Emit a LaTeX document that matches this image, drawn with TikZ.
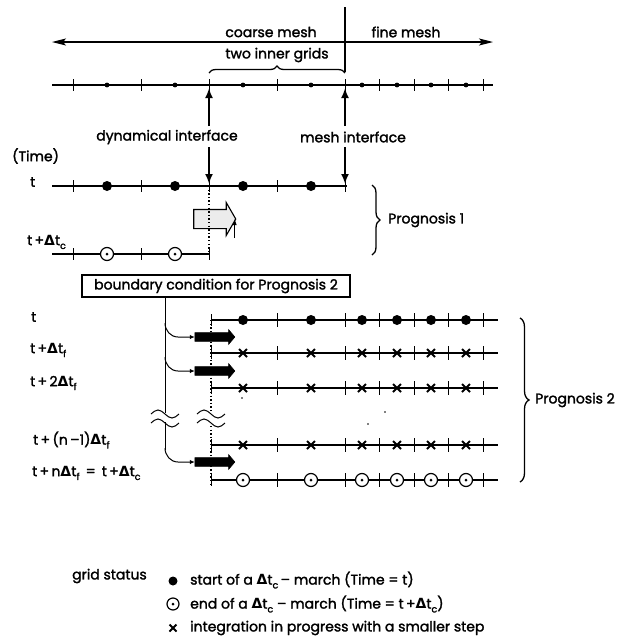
\documentclass[tikz,border=0pt]{standalone}
\usepackage{fontspec}
\setmainfont{Poppins}[FakeBold=1.8]
\newfontfamily\gkfont{DejaVu Sans}
\usetikzlibrary{arrows.meta,decorations.pathreplacing,shapes.arrows,calc}
\newcommand{\Dlt}{{\gkfont\bfseries Δ}}
\newcommand{\lsub}[1]{\raisebox{-0.5ex}{\fontsize{9.5}{10}\selectfont #1}}
\tikzset{
  lab/.style={font=\fontsize{14}{16}\selectfont, inner sep=0pt},
  meshline/.style={line width=1.1pt},
  tickmark/.style={line width=1pt},
  thickarrow/.style={line width=2.6pt,-{Latex[length=10pt,width=8pt]}},
  dotline/.style={line width=1.4pt, dash pattern=on 1.4pt off 2.2pt},
  blackarrow/.style={single arrow, draw, fill=black, line width=0.6pt,
    minimum height=40pt, inner xsep=0pt, inner ysep=4pt, single arrow head extend=3pt,
    single arrow tip angle=100, outer sep=0pt},
  branch/.style={line width=1pt,-{Latex[length=5pt,width=4.5pt]}},
  crossmark/.style={line width=2pt},
  bracedeco/.style={decorate, decoration={brace, amplitude=8pt}, line width=1.3pt}
}
\begin{document}
\begin{tikzpicture}[x=1pt,y=-1pt]
\useasboundingbox (0,0) rectangle (623,641);

% ---------------- top: meshes ----------------
\draw[line width=1.1pt,{Stealth[length=14pt,width=7pt,inset=3pt]}-{Stealth[length=14pt,width=7pt,inset=3pt]}] (52,42) -- (493,42);
\node[lab] (coarse) at (271,32) {coarse mesh};
\node[lab] (fine) at (406,32) {fine mesh};
\node[lab] (inner) at (277,55) {two inner grids};
\draw[line width=2.2pt] (345,7) -- (345,72);
\draw[bracedeco,decoration={brace,amplitude=7pt}] (209,73) -- (345,73);

% mesh row
\draw[meshline] (52,85) -- (493,85);
\foreach \x in {73,141,209,277,345,379.5,414,448.5,483} \draw[tickmark] (\x,79) -- (\x,91);
\foreach \x in {107,175,243,311,362,397,431,466} \fill (\x,85) circle (2.4);

% interfaces
\node[lab] (dyn) at (167,137) {dynamical interface};
\node[lab] (mif) at (353,137) {mesh interface};
\draw[thickarrow] (209,126) -- (209,88);
\draw[thickarrow] (345,126) -- (345,88);
\draw[thickarrow] (209,147) -- (209,184);
\draw[thickarrow] (345,147) -- (345,184);

% ---------------- Prognosis 1 ----------------
\node[lab,anchor=west] (time) at (12,156) {(Time)};
\node[lab,anchor=west] (lt) at (30,182) {t};
\node[lab,anchor=west] (ltc) at (27,242) {t\,+\Dlt t\lsub{c}};

\draw[meshline] (52,186) -- (347,186);
\foreach \x in {73,141,209,277,345} \draw[tickmark] (\x,180) -- (\x,192);
\foreach \x in {107,175,243,311} \fill (\x,186) circle (5);

\draw[meshline] (52,254) -- (209,254);
\foreach \x in {73,141,209} \draw[tickmark] (\x,248) -- (\x,260);
\foreach \x in {107,175} {\draw[line width=1.2pt,fill=white] (\x,254) circle (6.5); \fill (\x,254) circle (1.5);}

\node[single arrow, draw, line width=1.1pt, fill=gray!15, minimum height=42pt,
  inner xsep=0pt, inner ysep=9pt, single arrow head extend=7pt,
  single arrow tip angle=120, outer sep=0pt] (harrow) at (212,219) {};
\draw[dotline] (209,186) -- (209,254);

\node[draw, line width=1.1pt, minimum width=268pt, minimum height=22pt, inner sep=0pt,
  font=\fontsize{14}{16}\selectfont] (box) at (216,286) {boundary condition for Prognosis 2};
\draw[line width=0.8pt,-{Latex[length=6pt,width=4pt]}] ($(harrow.tip)+(-1,19)$) -- ($(harrow.tip)+(-1,0)$ |- box.north);

\draw[bracedeco] (372,185) -- (372,255);
\node[lab,anchor=west] (p1) at (388,220) {Prognosis 1};

% ---------------- Prognosis 2 ----------------
\node[lab,anchor=west] (l0) at (31,317) {t};
\node[lab,anchor=west] (l1) at (30,350) {t\,+\Dlt t\lsub{f}};
\node[lab,anchor=west] (l2) at (30,383) {t\,+\,2\Dlt t\lsub{f}};
\node[lab,anchor=west] (l3) at (33,440) {t\,+\,(n\,–1)\Dlt t\lsub{f}};
\node[lab,anchor=west] (l4) at (32,473) {t\,+\,n\Dlt t\lsub{f} \,=\, t\,+\Dlt t\lsub{c}};

% fine rows
\foreach \y/\k in {320/0,353/1,388/1,445/1,480/2} {
  \draw[meshline] (211,\y) -- (498,\y);
  \draw[tickmark] (211,\y-6) -- (211,\y+6);
  \foreach \x in {277,345,379.5,414,448.5,483} \draw[tickmark] (\x,\y-7) -- (\x,\y+7);
  \foreach \x in {243,311,362,397,431,466} {
    \ifnum\k=0 \fill (\x,\y) circle (5); \fi
    \ifnum\k=1 \draw[crossmark] (\x-4,\y-4) -- (\x+4,\y+4) (\x-4,\y+4) -- (\x+4,\y-4); \fi
    \ifnum\k=2 \draw[line width=1.2pt,fill=white] (\x,\y) circle (6.5); \fill (\x,\y) circle (1.5); \fi
  }
}

% dotted interface line, broken
\draw[dotline] (211,320) -- (211,411);
\draw[dotline] (211,426) -- (211,484);

% black block arrows
\node[blackarrow] (b1) at (213,337) {};
\node[blackarrow] (b2) at (213,371) {};
\node[blackarrow] (b3) at (213,462) {};

% distribution line from the box
\coordinate (vtop) at (box.south -| 165,0);
\draw[line width=1pt] (vtop) -- (165,413);
\draw[line width=1pt] (165,422) -- (165,450);
\draw[branch] (165,323) to[out=-90,in=180] (178,337) -- (b1.west);
\draw[branch] (165,357) to[out=-90,in=180] (178,371) -- (b2.west);
\draw[branch] (165,448) to[out=-90,in=180] (178,462) -- (b3.west);

% break marks
\foreach \x in {165,211} {
  \draw[line width=1pt] (\x-14,414) sin (\x-7,410) cos (\x,414) sin (\x+7,418) cos (\x+14,414);
  \draw[line width=1pt] (\x-14,423) sin (\x-7,419) cos (\x,423) sin (\x+7,427) cos (\x+14,423);
}
\fill (242,398) circle (0.9);
\fill (385,412) circle (0.9);
\fill (368,424) circle (0.9);

\draw[bracedeco,decoration={brace,amplitude=9pt}] (520,318) -- (520,482);
\node[lab,anchor=west] (p2) at (535,400) {Prognosis 2};

% ---------------- legend ----------------
\node[lab,anchor=west] (gs) at (72,576) {grid status};
\fill (173,581) circle (4.5);
\draw[line width=1.2pt] (173,604) circle (6); \fill (173,604) circle (1.5);
\draw[crossmark] (169.5,624.5) -- (176.5,631.5) (169.5,631.5) -- (176.5,624.5);
\node[lab,anchor=west] (g1) at (190,580) {start of a \Dlt t\lsub{c}\,– march (Time = t)};
\node[lab,anchor=west] (g2) at (190,604) {end of a \Dlt t\lsub{c} – march (Time = t\,+\Dlt t\lsub{c})};
\node[lab,anchor=west] (g3) at (190,628) {integration in progress with a smaller step};
\end{tikzpicture}
\end{document}
